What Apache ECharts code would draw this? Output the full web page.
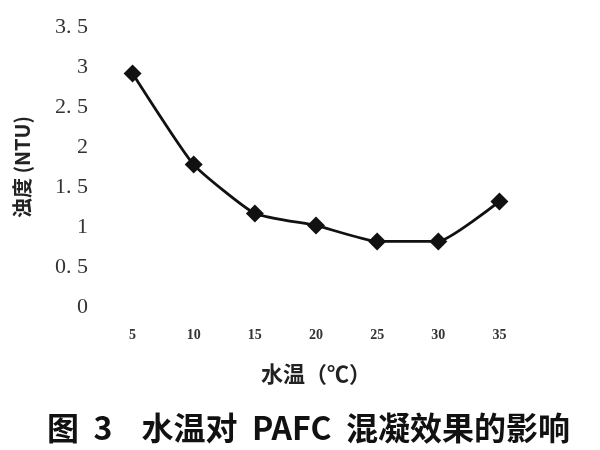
<!DOCTYPE html>
<html><head><meta charset="utf-8">
<script src="https://cdn.jsdelivr.net/npm/echarts@6/dist/echarts.min.js"></script>
<style>html,body{margin:0;padding:0;background:#fff}#c{width:600px;height:450px}</style>
</head><body><div id="c"></div>
<script>
var categories = ['5', '10', '15', '20', '25', '30', '35'];
var turbidity = [2.92, 1.78, 1.17, 1.02, 0.82, 0.82, 1.32];
var yTicks = [0, 0.5, 1, 1.5, 2, 2.5, 3, 3.5];
var chartTitle = '图  3    水温对  PAFC  混凝效果的影响';
var xName = '水温（℃）';
var yName = '浊度 (NTU)';

var chart = echarts.init(document.getElementById('c'));
chart.setOption({
  backgroundColor: '#fff',
  animation: false,
  title: {
    text: chartTitle, left: 42, top: 407,
    textStyle: { fontFamily: 'Noto Sans CJK SC', fontWeight: 'bold', fontSize: 32, color: '#111' }
  },
  grid: { left: 102, right: 70, top: 27, bottom: 143 },
  xAxis: {
    type: 'category', data: categories, boundaryGap: true,
    axisLine: { show: false }, axisTick: { show: false },
    axisLabel: { margin: 21, fontFamily: 'Liberation Serif', fontWeight: 'bold', fontSize: 14, color: '#333' },
    name: xName, nameLocation: 'middle', nameGap: 56,
    nameTextStyle: { fontFamily: 'Noto Sans CJK SC', fontWeight: 'bold', fontSize: 22, color: '#222' }
  },
  yAxis: {
    type: 'value', min: 0, max: 3.5, interval: 0.5,
    splitLine: { show: false }, axisLine: { show: false }, axisTick: { show: false },
    axisLabel: {
      margin: 14, fontFamily: 'Liberation Serif', fontSize: 22, color: '#333',
      formatter: function (v) { return String(v).replace('.', '. '); }
    },
    name: yName, nameLocation: 'middle', nameGap: 70,
    nameTextStyle: { fontFamily: 'Noto Sans CJK SC', fontSize: 20, fontWeight: 'bold', color: '#222' }
  },
  series: [{
    type: 'line', data: turbidity, smooth: 0.15,
    symbol: 'diamond', symbolSize: 18,
    lineStyle: { color: '#111', width: 2.8 },
    itemStyle: { color: '#111' }
  }]
});
</script></body></html>
